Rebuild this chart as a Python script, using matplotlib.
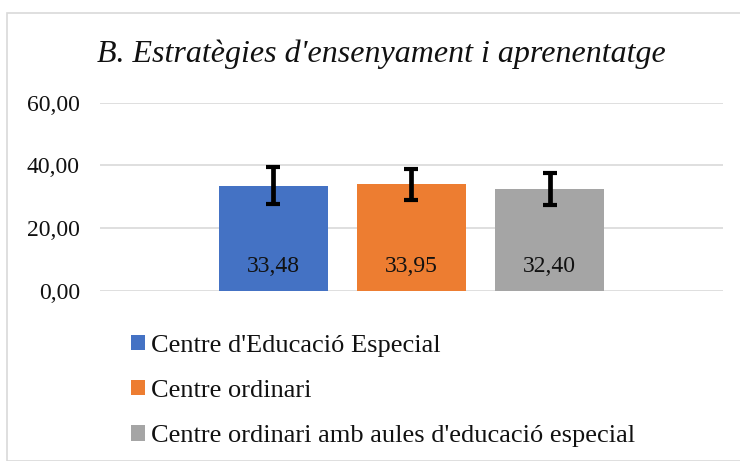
import matplotlib
matplotlib.use("Agg")
import matplotlib.pyplot as plt
from matplotlib.ticker import FuncFormatter
from matplotlib.patches import Rectangle

# Data
categories = ["Centre d'Educació Especial", "Centre ordinari",
              "Centre ordinari amb aules d'educació especial"]
means = [33.48, 33.95, 32.40]
errors = [5.9, 5.0, 5.1]
colors = ["#4472C4", "#ED7D31", "#A5A5A5"]
title = "B. Estratègies d'ensenyament i aprenentatge"
yticks = [0, 20, 40, 60]

plt.rcParams['font.family'] = ['Liberation Serif', 'DejaVu Serif']

W, H = 740, 461
fig = plt.figure(figsize=(W / 100, H / 100), dpi=100)

# chart frame
fig.patches.append(Rectangle((7 / W, 0), 1.2, 1 - 13 / H, transform=fig.transFigure,
                             fill=False, edgecolor="#d9d9d9", linewidth=1.2))

ax = fig.add_axes([100 / W, 1 - 291 / H, 623 / W, (291 - 102.7) / H])
bars = []
for i, (m, e, c, lab) in enumerate(zip(means, errors, colors, categories)):
    b = ax.bar(i, m, width=0.79, color=c, label=lab, zorder=2)
    bars.append(b)
    ax.errorbar(i, m, yerr=e, fmt='none', ecolor='black', elinewidth=3.4,
                capsize=4.7, capthick=3.0, zorder=3)
    ax.annotate(f"{m:.2f}".replace('.', ','), xy=(i, 0), xytext=(0, 18),
                textcoords='offset points', ha='center', va='center',
                fontsize=17, color='#111111', zorder=4)

ax.set_xlim(-1.257, 3.257)
ax.set_ylim(0, 60)
ax.set_yticks(yticks)
ax.yaxis.set_major_formatter(FuncFormatter(lambda v, p: f"{v:.2f}".replace('.', ',')))
ax.set_xticks([])
ax.tick_params(axis='y', length=0, labelsize=17, pad=14.5, labelcolor='#111111')
for s in ax.spines.values():
    s.set_visible(False)
ax.grid(axis='y', color='#d9d9d9', linewidth=1.2, zorder=0)
ax.set_axisbelow(True)

fig.text(381 / W, 1 - 54 / H, title, ha='center', va='center',
         fontsize=23, style='italic', color='#111111')

handles = [b[0] for b in bars]
fig.legend(handles, categories, loc='upper left',
           bbox_to_anchor=(120 / W, 1 - 324 / H), frameon=False,
           fontsize=19, handlelength=0.53, handleheight=0.53,
           handletextpad=0.23, labelspacing=0.88, borderaxespad=0,
           labelcolor='#111111')

fig.savefig("out.png", dpi=100)
